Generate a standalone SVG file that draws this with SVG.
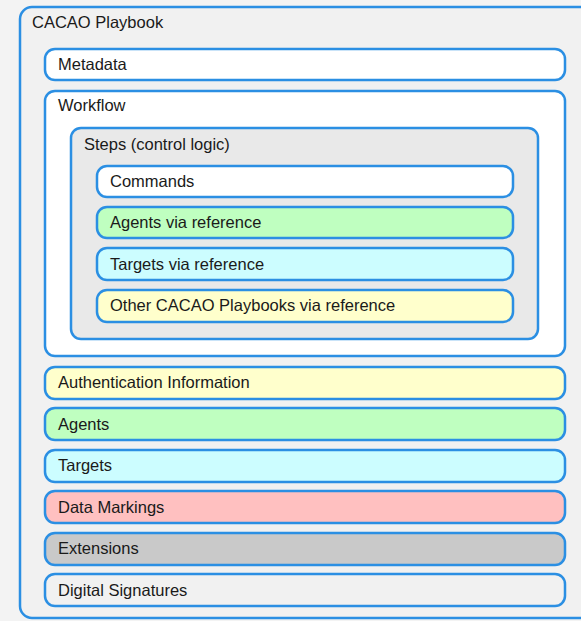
<svg xmlns="http://www.w3.org/2000/svg" width="581" height="621" viewBox="0 0 581 621">
  <style>
    .box { stroke: #2b8fe3; stroke-width: 2.5; }
    .lbl { font-family: "Liberation Sans", Arial, sans-serif; font-size: 16.5px; fill: #1a1a1a; }
    .white { fill: #ffffff; }
    .light { fill: #f1f1f1; }
    .steps { fill: #e9e9e9; }
    .green { fill: #bfffc0; }
    .cyan { fill: #ccfdff; }
    .yellow { fill: #ffffcc; }
    .pink { fill: #ffc0c0; }
    .grey { fill: #c9c9c9; }
  </style>
  <rect width="581" height="621" fill="#f3f3f3"/>

  <g id="playbook">
    <rect class="box light" x="20" y="7" width="580" height="611" rx="12"/>
    <text class="lbl" x="32" y="28">CACAO Playbook</text>
  </g>

  <g id="metadata">
    <rect class="box white" x="45" y="49" width="520" height="31" rx="10"/>
    <text class="lbl" x="58" y="70">Metadata</text>
  </g>

  <g id="workflow">
    <rect class="box white" x="45" y="91" width="520" height="265" rx="10"/>
    <text class="lbl" x="58" y="111">Workflow</text>
  </g>

  <g id="steps">
    <rect class="box steps" x="71" y="128" width="467" height="211" rx="10"/>
    <text class="lbl" x="84" y="150">Steps (control logic)</text>
  </g>

  <g id="commands">
    <rect class="box white" x="97" y="166" width="416" height="31" rx="10"/>
    <text class="lbl" x="110" y="187">Commands</text>
  </g>

  <g id="agents-ref">
    <rect class="box green" x="97" y="207" width="416" height="31" rx="10"/>
    <text class="lbl" x="110" y="228">Agents via reference</text>
  </g>

  <g id="targets-ref">
    <rect class="box cyan" x="97" y="248" width="416" height="32" rx="10"/>
    <text class="lbl" x="110" y="270">Targets via reference</text>
  </g>

  <g id="playbooks-ref">
    <rect class="box yellow" x="97" y="290" width="416" height="32" rx="10"/>
    <text class="lbl" x="110" y="311">Other CACAO Playbooks via reference</text>
  </g>

  <g id="authentication">
    <rect class="box yellow" x="45" y="367" width="520" height="32" rx="10"/>
    <text class="lbl" x="58" y="388">Authentication Information</text>
  </g>

  <g id="agents">
    <rect class="box green" x="45" y="408" width="520" height="32" rx="10"/>
    <text class="lbl" x="58" y="430">Agents</text>
  </g>

  <g id="targets">
    <rect class="box cyan" x="45" y="450" width="520" height="32" rx="10"/>
    <text class="lbl" x="58" y="471">Targets</text>
  </g>

  <g id="data-markings">
    <rect class="box pink" x="45" y="491" width="520" height="32" rx="10"/>
    <text class="lbl" x="58" y="513">Data Markings</text>
  </g>

  <g id="extensions">
    <rect class="box grey" x="45" y="533" width="520" height="32" rx="10"/>
    <text class="lbl" x="58" y="554">Extensions</text>
  </g>

  <g id="signatures">
    <rect class="box light" x="45" y="574" width="520" height="32" rx="10"/>
    <text class="lbl" x="58" y="596">Digital Signatures</text>
  </g>

  <g id="connectors"/>
</svg>
